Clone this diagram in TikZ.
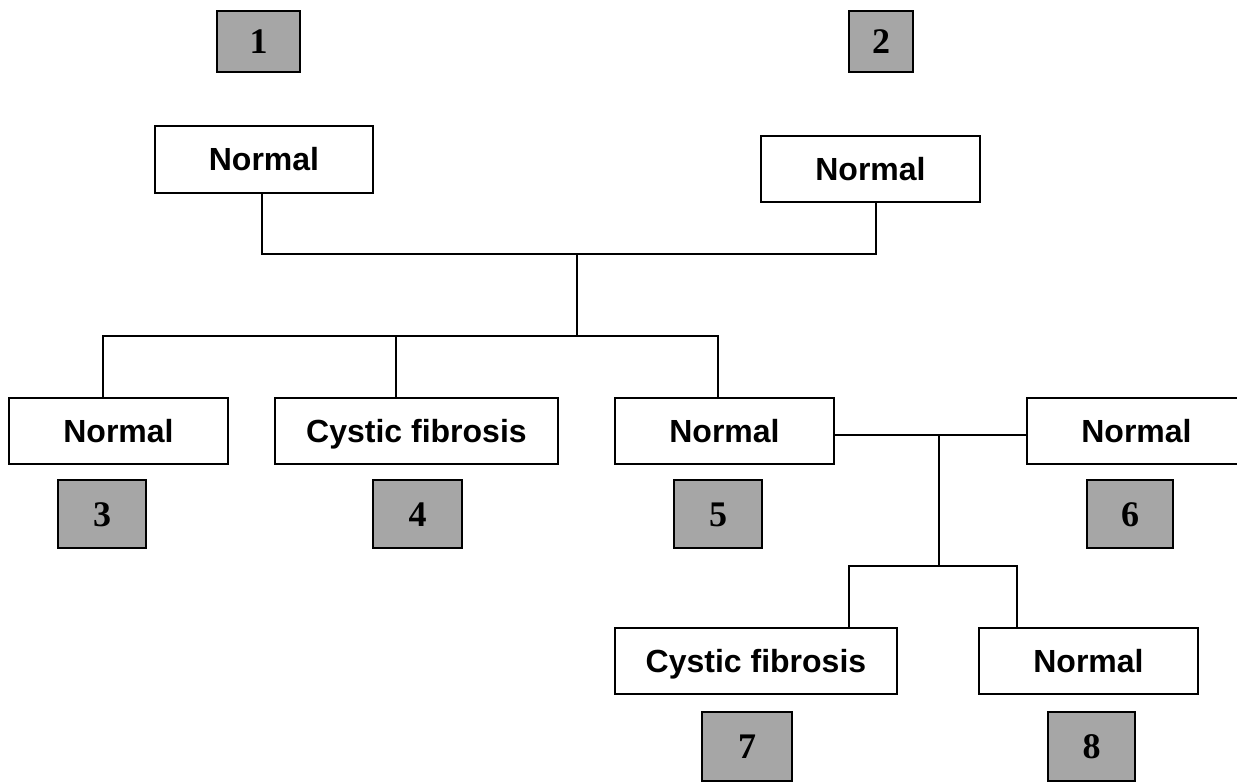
\documentclass[tikz,border=0pt]{standalone}
\usepackage{fontspec}
\setmainfont{Liberation Serif}
\setsansfont{Liberation Sans}
\definecolor{numgray}{RGB}{166,166,166}
\begin{document}
\begin{tikzpicture}[x=1pt,y=-1pt,
  lbox/.style={draw=black,fill=white,line width=1.6pt,inner sep=0pt,minimum height=66pt,
    text height=23pt,text depth=0pt,
    font=\sffamily\bfseries\fontsize{32}{38}\selectfont},
  numbox/.style={draw=black,fill=numgray,line width=1.6pt,inner sep=0pt,
    text height=24pt,text depth=0pt,
    font=\rmfamily\bfseries\fontsize{36}{42}\selectfont},
  link/.style={line width=1.6pt,draw=black}]
\useasboundingbox (0,0) rectangle (1237,783);
\clip (0,0) rectangle (1237,783);
% number boxes
\node[numbox,minimum width=83pt,minimum height=61pt] (g1) at (258.5,41.5) {1};
\node[numbox,minimum width=64pt,minimum height=61pt] (g2) at (881,41.5) {2};
\node[numbox,minimum width=88pt,minimum height=68pt] (g3) at (102,514) {3};
\node[numbox,minimum width=89pt,minimum height=68pt] (g4) at (417.5,514) {4};
\node[numbox,minimum width=88pt,minimum height=68pt] (g5) at (718,514) {5};
\node[numbox,minimum width=86pt,minimum height=68pt] (g6) at (1130,514) {6};
\node[numbox,minimum width=90pt,minimum height=69pt] (g7) at (747,746.5) {7};
\node[numbox,minimum width=87pt,minimum height=69pt] (g8) at (1091.5,746.5) {8};
% label boxes
\node[lbox,minimum width=218pt,minimum height=67pt] (n1) at (264,159.5) {Normal};
\node[lbox,minimum width=219pt] (n2) at (870.5,169) {Normal};
\node[lbox,minimum width=219pt] (n3) at (118.5,431) {Normal};
\node[lbox,minimum width=283pt] (n4) at (416.5,431) {Cystic fibrosis};
\node[lbox,minimum width=219pt] (n5) at (724.5,431) {Normal};
\node[lbox,minimum width=219pt] (n6) at (1136.5,431) {Normal};
\node[lbox,minimum width=282pt] (n7) at (756,661) {Cystic fibrosis};
\node[lbox,minimum width=219pt] (n8) at (1088.5,661) {Normal};
% junctions
\coordinate (j1) at (577,254);
\coordinate (j2) at (577,336);
\coordinate (m) at (939,435);
\coordinate (j3) at (939,566);
% connectors
\draw[link] ([xshift=-2pt]n1.south) |- (j1) -| ([xshift=5.5pt]n2.south);
\draw[link] (j1) -- (j2);
\draw[link] ([xshift=-15.5pt]n3.north) |- (j2) -| ([xshift=-6.5pt]n5.north);
\draw[link] ([xshift=-20.5pt]n4.north) -- ([xshift=-20.5pt]n4.north |- j2);
\draw[link] ([yshift=-4pt]n5.east) -- ([yshift=-4pt]n6.west);
\draw[link] (m) -- (j3);
\draw[link] ([xshift=93pt]n7.north) |- (j3) -| ([xshift=-71.5pt]n8.north);
\end{tikzpicture}
\end{document}
